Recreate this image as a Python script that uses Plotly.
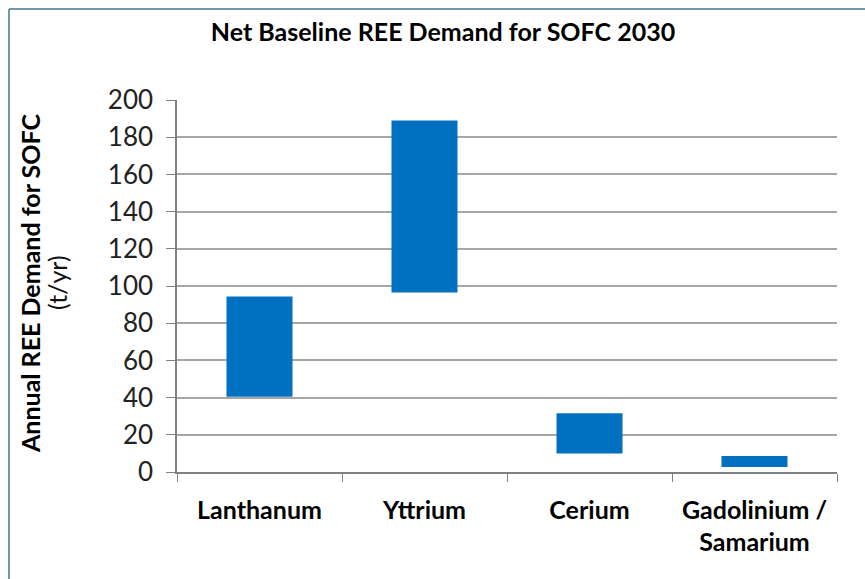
import plotly.graph_objects as go

# Net baseline demand ranges (t/yr) per element, 2030
elements = ["Lanthanum", "Yttrium", "Cerium", "Gadolinium /<br>Samarium"]
demand_low = [40.5, 96.5, 10.0, 2.7]
demand_high = [94.4, 189.0, 31.6, 8.6]
y_ticks = [0, 20, 40, 60, 80, 100, 120, 140, 160, 180, 200]

spans = [h - l for h, l in zip(demand_high, demand_low)]

W, H = 865, 579
ML, MR, MT, MB = 177, 28, 100, 107
PW = W - ML - MR
PH = H - MT - MB

fig = go.Figure(
    go.Bar(
        x=elements,
        y=spans,
        base=demand_low,
        width=0.4,
        marker=dict(color="#0070C0", line=dict(width=0)),
        hoverinfo="x+y",
    )
)

def px_x(p):
    return (p - ML) / PW

def px_y(p):
    return (H - MB - p) / PH

# frame around the chart area (top and left edges)
frame = "#7096AA"
fig.add_shape(type="line", xref="paper", yref="paper",
              x0=px_x(9), x1=px_x(W + 5), y0=px_y(9), y1=px_y(9),
              line=dict(color=frame, width=2))
fig.add_shape(type="line", xref="paper", yref="paper",
              x0=px_x(9), x1=px_x(9), y0=px_y(9), y1=px_y(H + 5),
              line=dict(color=frame, width=2))

# y-axis title: bold first line, regular units line
fig.add_annotation(xref="paper", yref="paper", x=px_x(30), y=px_y(284),
                   xanchor="center", yanchor="middle",
                   text="<b>Annual REE Demand for SOFC</b>", textangle=-90,
                   showarrow=False, font=dict(family="Lato", size=25, color="#000"))
fig.add_annotation(xref="paper", yref="paper", x=px_x(57), y=px_y(283),
                   xanchor="center", yanchor="middle",
                   text="(t/yr)", textangle=-90,
                   showarrow=False, font=dict(family="Lato", size=25, color="#111"))

fig.update_layout(
    width=W, height=H,
    margin=dict(l=ML, r=MR, t=MT, b=MB),
    paper_bgcolor="white",
    plot_bgcolor="white",
    showlegend=False,
    title=dict(text="<b>Net Baseline REE Demand for SOFC 2030</b>",
               x=443 / W, xanchor="center",
               y=1 - 32 / H, yanchor="middle",
               font=dict(family="Lato", size=25, color="#000")),
    bargap=0.6,
)

fig.update_xaxes(
    type="category",
    showline=True, linecolor="#808080", linewidth=1.5,
    ticks="outside", tickson="boundaries", ticklen=8, tickcolor="#808080",
    tickfont=dict(family="Lato", size=25, color="#000"),
    ticklabelstandoff=15,
    showgrid=False,
    tickprefix="<b>", ticksuffix="</b>",
)

fig.update_yaxes(
    range=[0, 200],
    tickvals=y_ticks,
    showline=True, linecolor="#808080", linewidth=1.5,
    ticks="outside", ticklen=9, tickcolor="#808080",
    ticklabelstandoff=8,
    showgrid=True, gridcolor="#A6A6A6", gridwidth=1.5,
    tickfont=dict(family="Lato", size=26, color="#222"),
    zeroline=False,
)

fig.write_html("out.html")
